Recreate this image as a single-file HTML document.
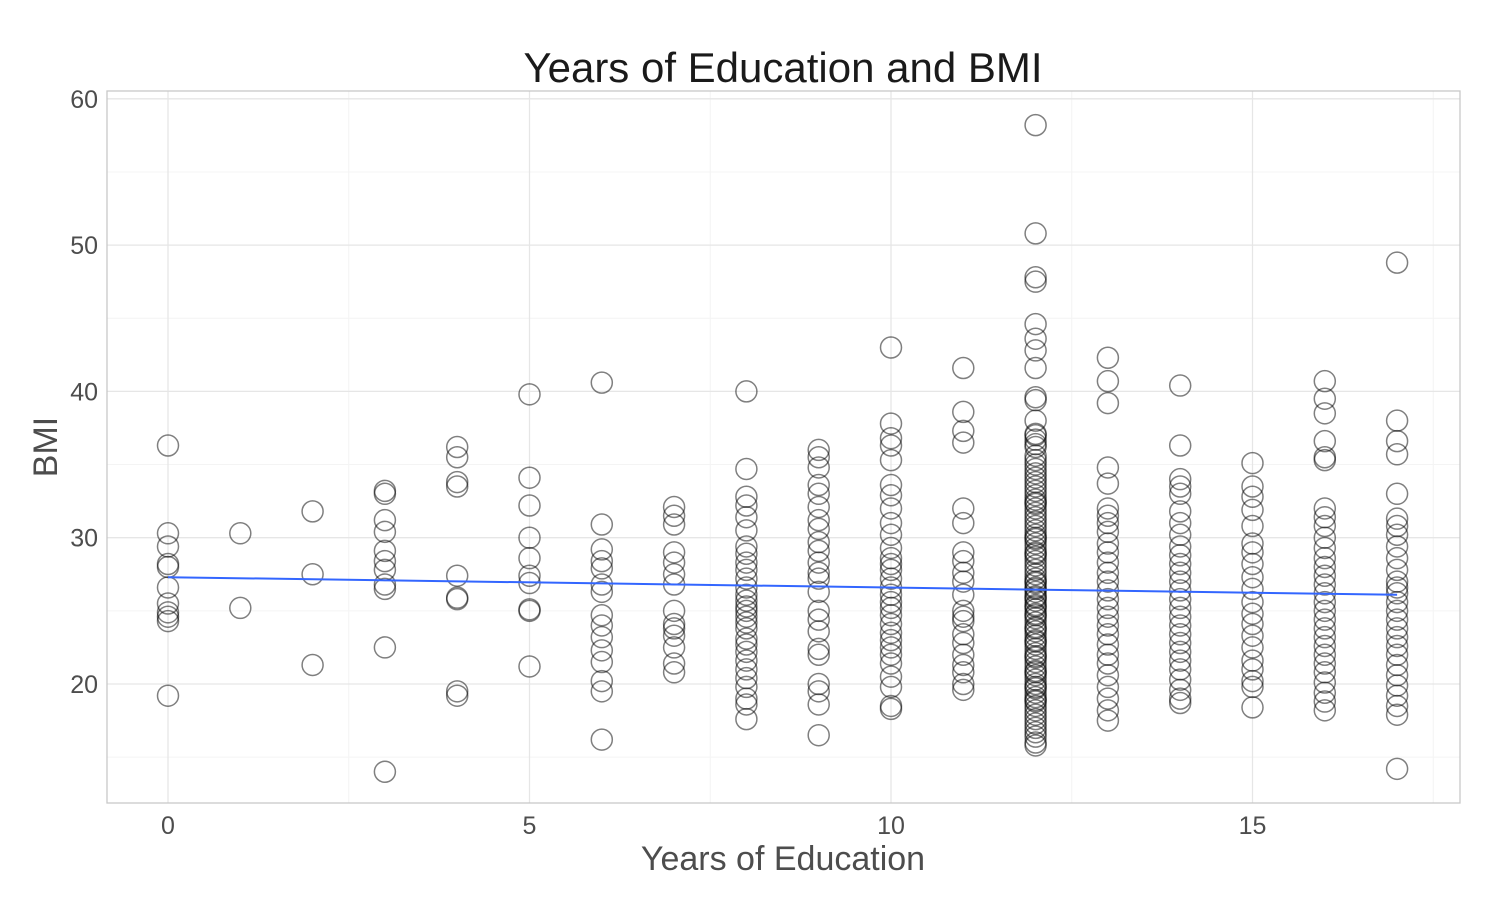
<!DOCTYPE html>
<html><head><meta charset="utf-8"><style>
html,body{margin:0;padding:0;background:#fff;}
svg{display:block;font-family:"Liberation Sans",Arial,sans-serif;}
</style></head><body>
<svg id="chart" width="1500" height="900" xmlns="http://www.w3.org/2000/svg">
<g id="grid"></g>
<g id="pts"></g>
<g id="fit"></g>
<rect x="107" y="91" width="1353" height="712" fill="none" stroke="#c8c8c8" stroke-width="1.3"/>
<g id="axes"></g>
<text x="783" y="82" text-anchor="middle" font-size="42" fill="#1a1a1a">Years of Education and BMI</text>
<text x="783" y="870" text-anchor="middle" font-size="34" fill="#4d4d4d">Years of Education</text>
<text transform="translate(57,447) rotate(-90)" text-anchor="middle" font-size="34" fill="#4d4d4d">BMI</text>
</svg>
<script>
const xTicks=[0,5,10,15];
const yTicks=[20,30,40,50,60];
const xMinor=[2.5,7.5,12.5,17.5];
const yMinor=[15,25,35,45,55];
const bmi0=[36.3,30.3,29.4,28.2,28.0,26.6,25.5,24.9,24.3,24.6,19.2];
const bmi1=[30.3,25.2];
const bmi2=[31.8,27.5,21.3];
const bmi3=[33.2,33.0,31.2,30.4,29.1,28.4,27.8,26.8,26.5,22.5,14.0];
const bmi4=[36.2,35.5,33.8,33.5,27.4,25.9,25.8,19.5,19.2];
const bmi5=[39.8,34.1,32.2,30.0,28.6,27.4,26.9,25.1,25.0,21.2];
const bmi6=[40.6,30.9,29.2,28.4,27.9,26.8,26.3,24.7,24.0,23.2,22.3,21.5,20.2,19.5,16.2];
const bmi7=[32.1,31.5,30.9,29.0,28.3,27.5,26.8,25.0,24.1,23.8,23.3,22.5,21.4,20.8];
const bmi8=[40.0,34.7,32.8,32.2,31.4,30.5,29.4,28.9,28.3,27.8,27.2,26.6,26.1,25.7,25.3,25.0,24.6,24.2,23.8,23.1,22.7,22.2,21.6,21.0,20.4,19.8,19.0,18.6,17.6];
const bmi9=[36.0,35.5,34.8,33.6,33.0,32.1,31.2,30.6,29.7,29.1,28.3,27.6,27.2,26.3,25.0,24.4,23.6,22.4,22.0,20.0,19.5,18.6,16.5];
const bmi10=[43.0,37.8,36.8,36.3,35.3,33.6,32.9,32.0,31.0,30.2,29.3,28.6,28.2,27.8,27.2,26.6,26.1,25.6,25.2,24.7,24.1,23.5,23.0,22.5,22.0,21.4,20.5,19.8,18.5,18.3];
const bmi11=[41.6,38.6,37.3,36.5,32.0,31.0,29.0,28.4,27.6,27.0,26.1,25.0,24.6,24.3,23.4,22.8,22.0,21.3,20.8,20.0,19.6];
const bmi12=[58.2,50.8,47.8,47.5,44.6,43.6,42.8,41.6,39.6,39.4,38.0,37.1,36.7,36.2,35.6,35.0,34.4,33.8,33.2,32.6,32.0,31.4,30.8,30.2,29.6,29.0,28.4,27.8,27.2,26.6,26.0,25.4,24.8,24.2,23.6,23.0,22.4,21.8,21.2,20.6,20.0,19.4,18.8,18.2,17.6,17.0,16.4,15.8,
 37.0,36.4,35.3,34.7,34.1,33.5,32.9,32.3,31.7,31.1,30.5,29.9,29.3,28.7,28.1,27.5,26.9,26.3,25.7,25.1,24.5,23.9,23.3,22.7,22.1,21.5,20.9,20.3,19.7,19.1,18.5,17.9,17.3,16.7,16.0,
 32.4,30.0,28.9,27.0,26.5,25.9,25.3,24.7,23.8,22.9,21.9,20.8,19.8,18.9];
const bmi13=[42.3,40.7,39.2,34.8,33.7,32.0,31.5,31.0,30.4,29.6,29.0,28.3,27.6,27.0,26.4,25.8,25.2,24.6,24.0,23.4,22.7,22.0,21.4,20.6,19.8,19.0,18.2,17.5];
const bmi14=[40.4,36.3,34.0,33.5,33.0,31.8,31.0,30.2,29.4,28.8,28.2,27.6,27.0,26.4,25.8,25.2,24.6,24.0,23.4,22.8,22.2,21.6,21.0,20.3,19.6,19.0,18.7];
const bmi15=[35.1,33.5,32.8,31.9,30.8,29.6,29.0,28.2,27.3,26.5,25.6,24.8,24.1,23.3,22.5,21.6,21.0,20.2,19.8,18.4];
const bmi16=[40.7,39.5,38.5,36.6,35.5,35.3,32.0,31.4,30.8,30.0,29.3,28.6,28.0,27.4,26.8,26.2,25.6,25.0,24.4,23.8,23.2,22.6,22.0,21.4,20.8,20.1,19.4,18.8,18.2];
const bmi17=[48.8,38.0,36.6,35.7,33.0,31.3,30.8,30.2,29.4,28.6,27.8,27.0,26.6,26.2,25.6,25.0,24.4,23.8,23.2,22.6,22.0,21.3,20.6,19.9,19.2,18.5,17.9,14.2];
const columns=[bmi0,bmi1,bmi2,bmi3,bmi4,bmi5,bmi6,bmi7,bmi8,bmi9,bmi10,bmi11,bmi12,bmi13,bmi14,bmi15,bmi16,bmi17];
const fitX=[0,17];
const fitY=[27.3,26.1];

const NS="http://www.w3.org/2000/svg";
const X=v=>168+v*72.3;
const Y=v=>684-(v-20)*14.63;
function mk(tag,attrs,parent){const e=document.createElementNS(NS,tag);for(const k in attrs)e.setAttribute(k,attrs[k]);parent.appendChild(e);return e;}
const grid=document.getElementById('grid'),axes=document.getElementById('axes'),pts=document.getElementById('pts'),fit=document.getElementById('fit');
xMinor.forEach(v=>{const l=mk('line',{x1:X(v),x2:X(v),y1:91,y2:803,stroke:'#f4f4f4','stroke-width':1},grid);

});
yMinor.forEach(v=>{const l=mk('line',{x1:107,x2:1460,y1:Y(v),y2:Y(v),stroke:'#f4f4f4','stroke-width':1},grid);

});
xTicks.forEach(v=>{const l=mk('line',{x1:X(v),x2:X(v),y1:91,y2:803,stroke:'#e6e6e6','stroke-width':1.3},grid);


const t=mk('text',{x:X(v),y:834,'text-anchor':'middle','font-size':25,fill:'#4d4d4d'},axes);t.textContent=v;

});
yTicks.forEach(v=>{const l=mk('line',{x1:107,x2:1460,y1:Y(v),y2:Y(v),stroke:'#e6e6e6','stroke-width':1.3},grid);


const t=mk('text',{x:98,y:Y(v)+9,'text-anchor':'end','font-size':25,fill:'#4d4d4d'},axes);t.textContent=v;

});
columns.forEach((col,i)=>col.forEach(b=>{const c=mk('circle',{cx:X(i),cy:Y(b),r:10.5,fill:'none',stroke:'rgba(0,0,0,0.5)','stroke-width':1.5},pts);

}));
const fl=mk('line',{x1:X(fitX[0]),y1:Y(fitY[0]),x2:X(fitX[1]),y2:Y(fitY[1]),stroke:'#3366ff','stroke-width':2},fit);


</script>
</body></html>
